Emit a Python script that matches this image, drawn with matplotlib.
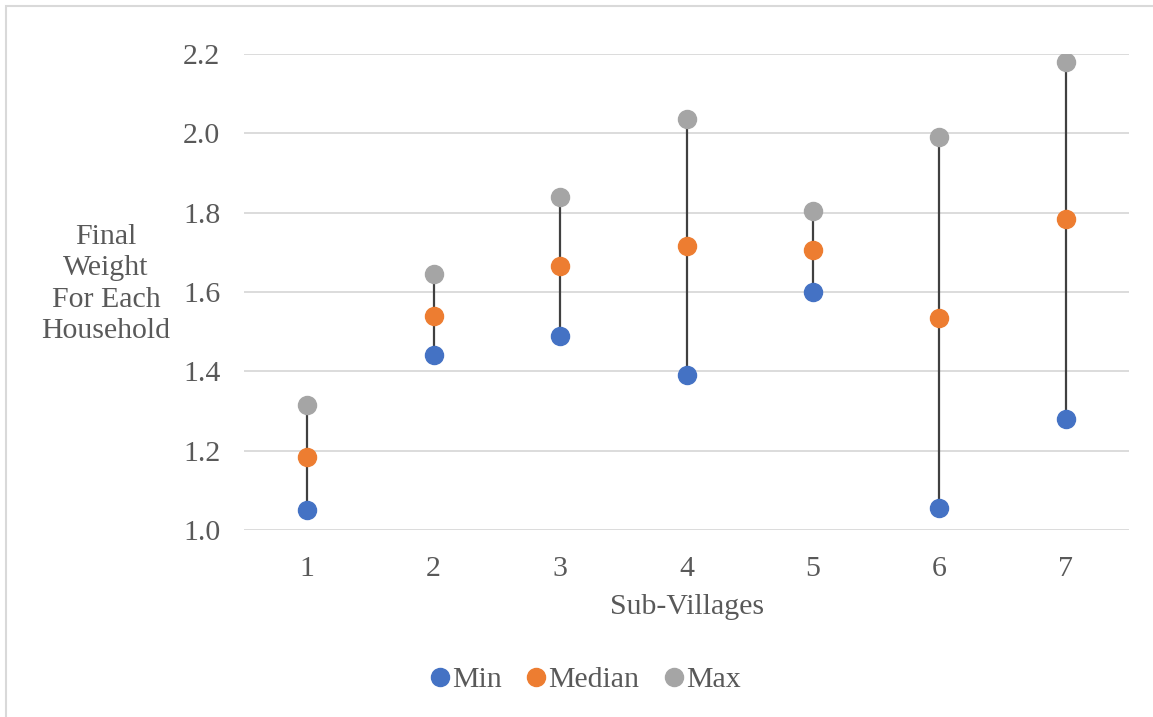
import matplotlib
matplotlib.use("Agg")
import matplotlib.pyplot as plt
from matplotlib.patches import Rectangle

villages = ["1", "2", "3", "4", "5", "6", "7"]
min_w = [1.05, 1.44, 1.49, 1.39, 1.60, 1.055, 1.28]
median_w = [1.185, 1.54, 1.665, 1.715, 1.705, 1.535, 1.785]
max_w = [1.315, 1.645, 1.84, 2.035, 1.805, 1.99, 2.18]
y_ticks = [1.0, 1.2, 1.4, 1.6, 1.8, 2.0, 2.2]

plt.rcParams["font.family"] = ["Liberation Serif", "DejaVu Serif"]
FS = 21.5

fig = plt.figure(figsize=(11.53, 7.17), dpi=100)
ax = fig.add_axes([244 / 1153, 1 - 530 / 717, (1129 - 244) / 1153, (530 - 54) / 717])

# chart frame
fig.patches.append(Rectangle((5.5 / 1153, -0.1), 1.2, 1 - 5.5 / 717 + 0.1,
                             transform=fig.transFigure, fill=False,
                             edgecolor="#d9d9d9", linewidth=1.5, zorder=0))

x = list(range(1, len(villages) + 1))
ax.vlines(x, min_w, max_w, color="#404040", linewidth=1.6, zorder=2)
ms = 13
ax.plot(x, min_w, "o", color="#4472c4", markersize=ms, linestyle="none", label="Min", zorder=3)
ax.plot(x, median_w, "o", color="#ed7d31", markersize=ms, linestyle="none", label="Median", zorder=3)
ax.plot(x, max_w, "o", color="#a5a5a5", markersize=ms, linestyle="none", label="Max", zorder=3)

ax.set_xlim(0.5, len(villages) + 0.5)
ax.set_ylim(1.0, 2.2)
ax.set_xticks(x)
ax.set_xticklabels(villages)
ax.set_yticks(y_ticks)
ax.set_yticklabels([f"{v:.1f}" for v in y_ticks])
ax.yaxis.grid(True, color="#d9d9d9", linewidth=1.3)
ax.set_axisbelow(True)
for s in ax.spines.values():
    s.set_visible(False)
ax.tick_params(length=0, labelsize=FS, colors="#595959")
ax.tick_params(axis="x", pad=19)
ax.tick_params(axis="y", pad=17)

fig.text(106 / 1153, 1 - 284 / 717, "Final\nWeight\nFor Each\nHousehold", ha="center",
         va="center", fontsize=FS, color="#595959", linespacing=1.27)
fig.text(687 / 1153, 1 - 607 / 717, "Sub-Villages", ha="center", va="center",
         fontsize=FS, color="#595959")

leg = fig.legend(loc="center", bbox_to_anchor=(583 / 1153, 1 - 680 / 717), ncol=3,
                 frameon=False, fontsize=FS, handletextpad=-0.1, columnspacing=0.65,
                 markerscale=1.0, handlelength=1.0)
for t in leg.get_texts():
    t.set_color("#595959")

fig.savefig("out.png", dpi=100)
